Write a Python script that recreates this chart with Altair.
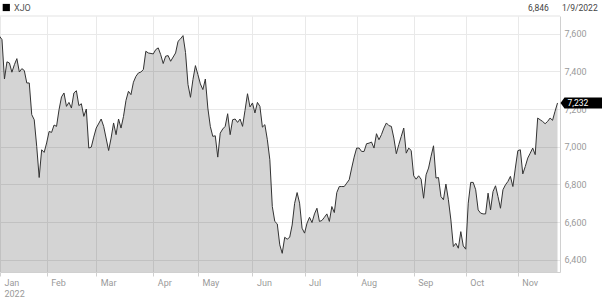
import altair as alt
import pandas as pd

# ---- data (trading-day index, close) ----
days = [-1, 0, 1, 2, 3, 4, 5, 6, 7, 8, 9, 10, 11, 12, 13, 14, 15, 16, 17, 18, 19, 20,
        21, 22, 23, 24, 25, 26, 27, 28, 29, 30, 31, 32, 33, 34, 35, 36, 37, 38, 40, 41,
        43, 44, 45, 46, 47, 48, 49, 50, 51, 52, 53, 54, 55,
        56, 57, 58, 59, 61, 62, 63, 64, 65, 66, 67, 68, 70, 71, 72, 73, 74, 75, 76, 77,
        78, 79, 80, 81, 82, 83, 84, 85, 86, 87, 88, 89, 90, 91, 92, 93, 94, 95, 96, 97,
        98, 99, 100, 101, 102, 103, 104, 105, 106, 107, 108, 109, 110, 111, 112,
        113, 114, 115, 116, 117, 118, 119, 120, 121, 122, 123, 124, 125, 126, 127, 128,
        129, 130, 131, 132, 133, 134, 135, 136, 137, 138, 139, 140, 141, 142, 143, 144,
        145, 146, 147, 148, 149, 150, 151, 152, 153, 154, 155, 156, 157, 158, 159, 160,
        161, 162, 163, 164, 165, 166, 167, 168,
        169, 170, 171, 172, 173, 174, 175, 176, 177, 178, 179, 180, 181, 182, 183, 184,
        185, 186, 187, 188, 189, 190, 191, 192, 193, 194, 195, 196, 197, 198, 199, 200,
        201, 202, 203, 204, 205, 206, 207, 208, 209, 210, 211, 212, 213, 214, 215, 216,
        217, 218, 219, 220, 221, 222, 223, 224]

closes = [7586, 7568, 7359, 7450, 7444, 7395, 7435, 7467, 7396, 7414, 7404, 7338, 7338,
          7170, 7143, 7002, 6837, 6984, 6970, 7020, 7081, 7076, 7115, 7108, 7196, 7264,
          7285, 7214, 7235, 7205, 7285, 7297, 7218, 7228, 7161, 7200, 6993, 6998, 7051,
          7099, 7147, 7108, 6980, 7046, 7126, 7064, 7147, 7099, 7161, 7246, 7294, 7276,
          7342, 7373, 7391,
          7396, 7409, 7506, 7497, 7492, 7515, 7524, 7488, 7441, 7480, 7483, 7453, 7497,
          7559, 7572, 7589, 7500, 7330, 7262, 7356, 7430, 7382, 7333, 7303, 7359, 7205,
          7108, 7055, 7058, 6945, 7072, 7094, 7108, 7175, 7064, 7143, 7147, 7129, 7147,
          7108, 7193, 7281, 7211, 7232, 7179, 7235, 7214, 7104, 7117, 7037, 6931, 6683,
          6604, 6591, 6480,
          6435, 6520, 6510, 6520, 6585, 6700, 6757, 6701, 6568, 6542, 6595, 6626, 6598,
          6644, 6674, 6604, 6609, 6626, 6644, 6604, 6683, 6651, 6757, 6789, 6789, 6789,
          6807, 6825, 6887, 6945, 6993, 6993, 6975, 6975, 7016, 7019, 7025, 6993, 7069,
          7037, 7064, 7099, 7126, 7112, 7108, 7046, 6963, 7011, 7055, 7099, 6966, 6993,
          6980, 6846, 6828, 6846,
          6828, 6727, 6851, 6887, 6949, 7005, 6834, 6837, 6736, 6719, 6802, 6719, 6612,
          6471, 6488, 6462, 6550, 6474, 6457, 6701, 6811, 6811, 6772, 6665, 6648, 6644,
          6644, 6754, 6665, 6763, 6793, 6736, 6674, 6772, 6798, 6816, 6843, 6789, 6887,
          6979, 6984, 6856, 6895, 6940, 6966, 6993, 6958, 7152, 7143, 7134, 7122, 7134,
          7152, 7140, 7188, 7232]

month_names = ["Jan", "Feb", "Mar", "Apr", "May", "Jun", "Jul", "Aug", "Sep", "Oct", "Nov"]
month_starts = [-0.8, 18, 38, 61, 79, 101, 122, 143, 166, 187, 208]
year_label = "2022"
y_ticks = [6400, 6600, 6800, 7000, 7200, 7400, 7600]
x_domain = [-0.8, 225.0]
y_domain = [6336, 7693]
series_name = ["XJO"]
readout_value = ["6,846"]
readout_date = ["1/9/2022"]
last_label = ["7,232"]

FONT = "Roboto"
GRID = "#e9e9e9"
AXIS_LINE = "#d0d0d0"
LABEL = "#9a9a9a"

df = pd.DataFrame({"day": days, "close": closes})
last = df.tail(1).assign(label=last_label)

x_scale = alt.Scale(domain=x_domain, nice=False, zero=False)
y_scale = alt.Scale(domain=y_domain, nice=False, zero=False)

names_js = "[" + ",".join(f"'{m}'" for m in month_names) + "]"
starts_js = "[" + ",".join(str(s) for s in month_starts) + "]"
label_expr = (f"datum.value < 0 ? ['{month_names[0]}','{year_label}'] : "
              f"{names_js}[indexof({starts_js}, datum.value)]")

x_axis = alt.Axis(values=month_starts, labelExpr=label_expr, grid=True, gridColor=GRID,
                  domainColor=AXIS_LINE, tickColor=AXIS_LINE, tickSize=4,
                  labelAlign="left", labelBaseline="top", labelOffset=4, labelPadding=2,
                  labelColor=LABEL, labelFont=FONT, labelFontSize=9, labelLineHeight=11,
                  labelFlush=False, labelOverlap=False, title=None)
y_axis = alt.Axis(orient="right", values=y_ticks, format=",d", grid=True, gridColor=GRID,
                  domainColor=AXIS_LINE, ticks=False, labelPadding=4,
                  labelColor=LABEL, labelFont=FONT, labelFontSize=9, title=None)

X = alt.X("day:Q", scale=x_scale, axis=x_axis)
Y = alt.Y("close:Q", scale=y_scale, axis=y_axis)

base = alt.Chart(df).encode(x=X, y=Y)
area = base.mark_area(color="black", opacity=0.17, clip=True)
line = base.mark_line(color="#333333", strokeWidth=1, clip=True)

top_rule = alt.Chart(pd.DataFrame({"close": [y_domain[1]]})).mark_rule(
    color="#e3e3e3", strokeWidth=1
).encode(y=Y)

callout_path = "M3,0 L7,-5.5 L60,-5.5 L60,5.5 L7,5.5 Z"
callout = alt.Chart(last).mark_point(
    shape=callout_path, size=4, filled=True, color="black", opacity=1, strokeWidth=0
).encode(x=X, y=Y)
callout_text = alt.Chart(last).mark_text(
    align="left", baseline="middle", dx=10, color="white", font=FONT, fontSize=8.5
).encode(x=X, y=Y, text="label:N")

hdr = pd.DataFrame({"name": series_name, "val": readout_value, "date": readout_date})
legend_sq = alt.Chart(hdr).mark_square(size=52, color="black", opacity=1).encode(
    x=alt.value(6.3), y=alt.value(-8.5))
legend_tx = alt.Chart(hdr).mark_text(align="left", baseline="middle", color="#555555",
                                     font=FONT, fontSize=9).encode(
    x=alt.value(14), y=alt.value(-8.5), text="name:N")
val_tx = alt.Chart(hdr).mark_text(align="left", baseline="middle", color="#444444",
                                  font=FONT, fontSize=8.5).encode(
    x=alt.value(528), y=alt.value(-8.5), text="val:N")
date_tx = alt.Chart(hdr).mark_text(align="left", baseline="middle", color="#444444",
                                   font=FONT, fontSize=8.5).encode(
    x=alt.value(562), y=alt.value(-8.5), text="date:N")

chart = alt.layer(area, line, top_rule, callout, callout_text,
                  legend_sq, legend_tx, val_tx, date_tx).properties(
    width=560, height=256,
    padding={"left": 0, "top": 16, "right": 42, "bottom": 25},
    autosize=alt.AutoSizeParams(type="none"),
    background="white",
).configure_view(stroke=None)

chart.save("out.html", embed_options={"renderer": "svg", "actions": False})
